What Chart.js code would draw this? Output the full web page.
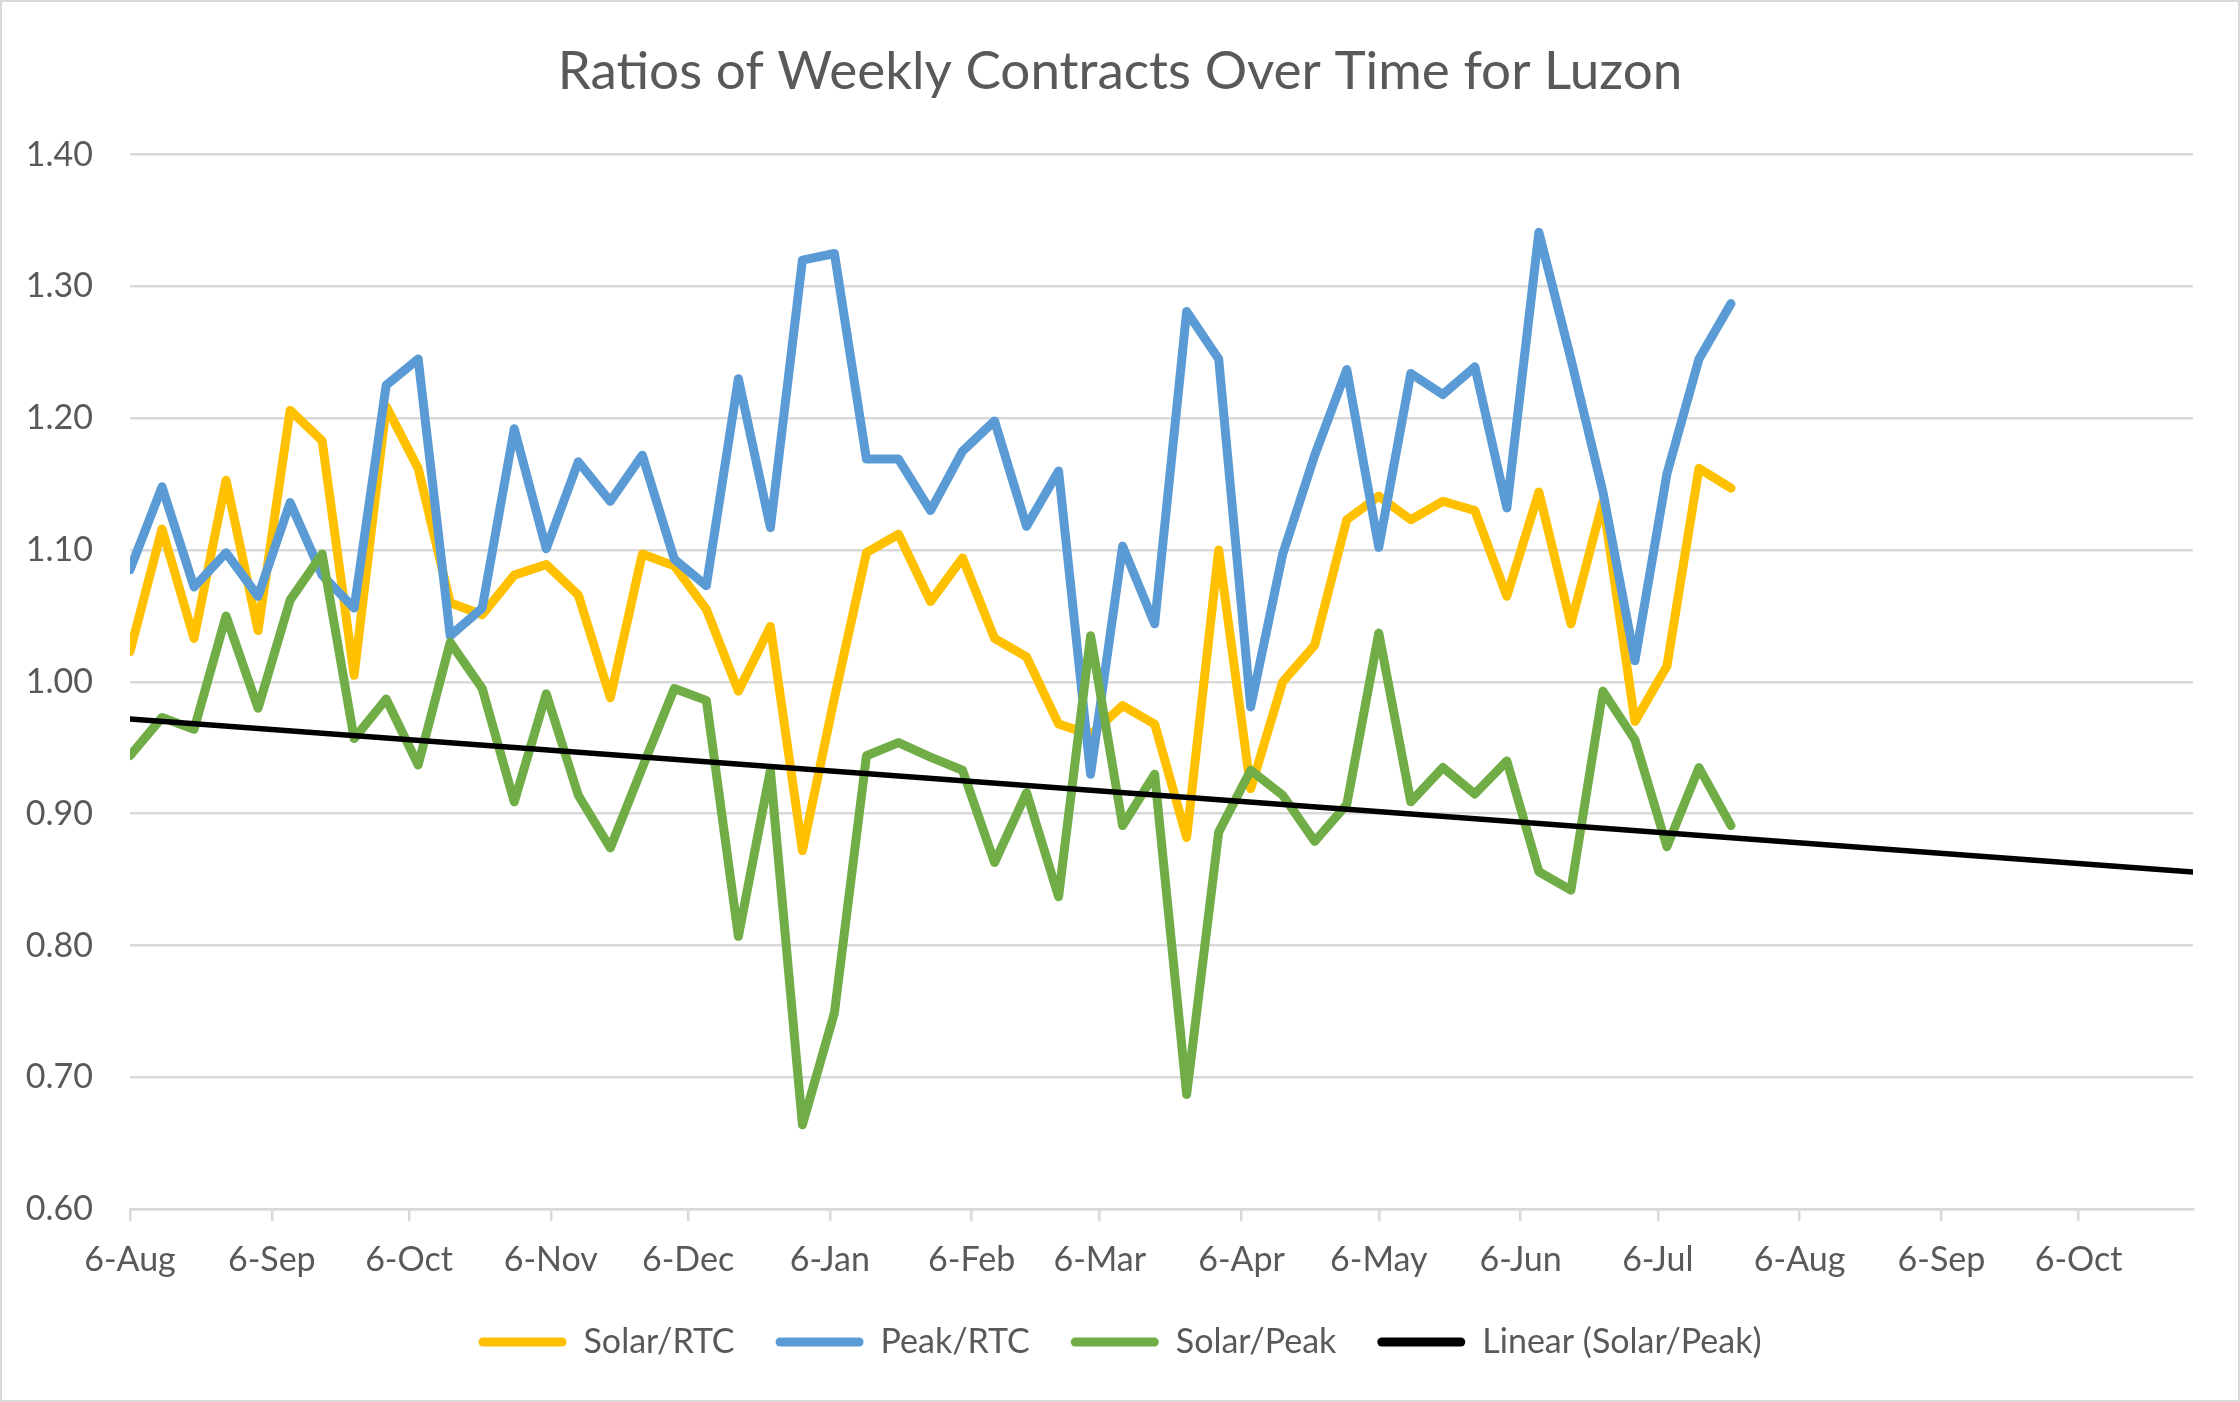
<!DOCTYPE html>
<html>
<head>
<meta charset="utf-8">
<script src="https://cdn.jsdelivr.net/npm/chart.js@4.4.1/dist/chart.umd.min.js"></script>
<style>
html,body{margin:0;padding:0;background:#fff;}
#wrap{width:2240px;height:1402px;position:relative;}
</style>
</head>
<body>
<div id="wrap"><canvas id="c"></canvas></div>
<script>
// ---- data ----
const weekDates = [
  '2018-08-06','2018-08-13','2018-08-20','2018-08-27','2018-09-03','2018-09-10','2018-09-17','2018-09-24',
  '2018-10-01','2018-10-08','2018-10-15','2018-10-22','2018-10-29','2018-11-05','2018-11-12','2018-11-19',
  '2018-11-26','2018-12-03','2018-12-10','2018-12-17','2018-12-24','2018-12-31','2019-01-07','2019-01-14',
  '2019-01-21','2019-01-28','2019-02-04','2019-02-11','2019-02-18','2019-02-25','2019-03-04','2019-03-11',
  '2019-03-18','2019-03-25','2019-04-01','2019-04-08','2019-04-15','2019-04-22','2019-04-29','2019-05-06',
  '2019-05-13','2019-05-20','2019-05-27','2019-06-03','2019-06-10','2019-06-17','2019-06-24','2019-07-01',
  '2019-07-08','2019-07-15','2019-07-22'
];
const solarRTC = [
  1.023,1.116,1.033,1.153,1.039,1.206,1.183,1.005,1.209,1.162,
  1.060,1.051,1.081,1.089,1.066,0.988,1.097,1.088,1.055,0.993,
  1.042,0.872,0.988,1.098,1.112,1.061,1.094,1.033,1.019,0.968,
  0.960,0.982,0.968,0.882,1.100,0.919,1.000,1.028,1.123,1.141,
  1.123,1.137,1.130,1.065,1.144,1.044,1.137,0.970,1.012,1.162,
  1.147
];
const peakRTC = [
  1.085,1.148,1.072,1.098,1.065,1.136,1.081,1.056,1.225,1.245,
  1.035,1.056,1.192,1.101,1.167,1.137,1.172,1.093,1.073,1.230,
  1.117,1.320,1.325,1.169,1.169,1.130,1.175,1.198,1.118,1.160,
  0.930,1.103,1.044,1.281,1.245,0.981,1.097,1.172,1.237,1.102,
  1.234,1.218,1.239,1.132,1.341,1.245,1.144,1.016,1.158,1.245,
  1.287
];
const solarPeak = [
  0.944,0.973,0.964,1.050,0.980,1.062,1.097,0.957,0.987,0.937,
  1.030,0.995,0.909,0.991,0.914,0.874,0.935,0.995,0.986,0.807,
  0.933,0.664,0.749,0.944,0.954,0.943,0.933,0.863,0.916,0.837,
  1.035,0.891,0.930,0.687,0.886,0.933,0.914,0.879,0.907,1.037,
  0.909,0.935,0.915,0.940,0.856,0.842,0.993,0.956,0.875,0.935,
  0.891
];
const tickDates = ['2018-08-06','2018-09-06','2018-10-06','2018-11-06','2018-12-06','2019-01-06','2019-02-06',
  '2019-03-06','2019-04-06','2019-05-06','2019-06-06','2019-07-06','2019-08-06','2019-09-06','2019-10-06'];
const tickLabels = ['6-Aug','6-Sep','6-Oct','6-Nov','6-Dec','6-Jan','6-Feb','6-Mar','6-Apr','6-May','6-Jun','6-Jul','6-Aug','6-Sep','6-Oct'];
const axisStart = '2018-08-06';
const axisEnd = '2019-10-31';
const yTicks = [0.60,0.70,0.80,0.90,1.00,1.10,1.20,1.30,1.40];
const seriesNames = ['Solar/RTC','Peak/RTC','Solar/Peak','Linear (Solar/Peak)'];
const seriesColors = ['#FFC000','#5B9BD5','#70AD47','#000000'];
const chartTitle = 'Ratios of Weekly Contracts Over Time for Luzon';

// ---- helpers ----
const DAY = 86400000;
const dayNum = d => (Date.parse(d + 'T00:00:00Z') - Date.parse(axisStart + 'T00:00:00Z')) / DAY;
const xs = weekDates.map(dayNum);
const toPts = arr => arr.map((v, i) => ({x: xs[i], y: v}));

// least squares linear trend of Solar/Peak (as Excel's linear trendline, forecast to axis end)
function linReg(x, y) {
  const n = x.length;
  const mx = x.reduce((a, b) => a + b, 0) / n;
  const my = y.reduce((a, b) => a + b, 0) / n;
  let sxy = 0, sxx = 0;
  for (let i = 0; i < n; i++) { sxy += (x[i] - mx) * (y[i] - my); sxx += (x[i] - mx) ** 2; }
  const b = sxy / sxx;
  return {a: my - b * mx, b};
}
const reg = linReg(xs, solarPeak);
const xMin = 0, xMax = dayNum(axisEnd);
const trendPts = [xMin, xMax].map(x => ({x, y: reg.a + reg.b * x}));

const FONT = 'Lato';
const TXT = '#595959';
const GRID = '#d9d9d9';

const bgBorder = {
  id: 'bgBorder',
  beforeDraw(chart) {
    const c = chart.ctx;
    c.save();
    c.fillStyle = '#fff';
    c.fillRect(0, 0, chart.width, chart.height);
    c.restore();
  },
  afterDraw(chart) {
    const c = chart.ctx;
    c.save();
    c.strokeStyle = GRID;
    c.lineWidth = 2;
    c.strokeRect(1, 1, chart.width - 2, chart.height - 2);
    c.restore();
  }
};

function mkDs(i, data, width, order) {
  return {
    label: seriesNames[i],
    data,
    borderColor: seriesColors[i],
    backgroundColor: seriesColors[i],
    borderWidth: width,
    pointRadius: 0,
    pointHoverRadius: 0,
    tension: 0,
    borderJoinStyle: 'round',
    borderCapStyle: 'round',
    fill: false,
    order
  };
}

function draw() {
  new Chart(document.getElementById('c'), {
    type: 'line',
    data: {
      datasets: [
        mkDs(0, toPts(solarRTC), 9, 4),
        mkDs(1, toPts(peakRTC), 9, 3),
        mkDs(2, toPts(solarPeak), 9, 2),
        mkDs(3, trendPts, 5.5, 1)
      ]
    },
    options: {
      responsive: true,
      maintainAspectRatio: false,
      devicePixelRatio: 1,
      animation: false,
      events: [],
      layout: {padding: {left: 47, right: 47, top: 0, bottom: 33}},
      plugins: {
        title: {
          display: true,
          text: chartTitle,
          color: TXT,
          font: {family: FONT, size: 53, weight: '400'},
          padding: {top: 40, bottom: 51}
        },
        legend: {
          display: true,
          position: 'bottom',
          labels: {
            color: TXT,
            font: {family: FONT, size: 34},
            boxWidth: 88,
            boxHeight: 9,
            useBorderRadius: true,
            borderRadius: 4.5,
            padding: 41,
            sort: (a, b) => a.datasetIndex - b.datasetIndex,
            generateLabels: (chart) => Chart.defaults.plugins.legend.labels.generateLabels(chart)
              .map(l => Object.assign(l, {lineWidth: 0, strokeStyle: 'rgba(0,0,0,0)'}))
          }
        },
        tooltip: {enabled: false}
      },
      scales: {
        x: {
          type: 'linear',
          min: xMin,
          max: xMax,
          afterBuildTicks: (scale) => { scale.ticks = tickDates.map(d => ({value: dayNum(d)})); },
          afterFit: (scale) => { scale.height = scale.height - 14; },
          ticks: {
            autoSkip: false,
            maxRotation: 0,
            minRotation: 0,
            color: TXT,
            font: {family: FONT, size: 34},
            padding: 18,
            callback: (v, i) => tickLabels[i]
          },
          grid: {drawOnChartArea: false, drawTicks: true, tickLength: 12, color: GRID, lineWidth: 2.5},
          border: {display: true, color: GRID, width: 2.5}
        },
        y: {
          type: 'linear',
          min: yTicks[0],
          max: yTicks[yTicks.length - 1],
          afterBuildTicks: (scale) => { scale.ticks = yTicks.map(v => ({value: v})); },
          afterFit: (scale) => {
            scale.width = 83;
            // let the tick labels extend left of the (narrowed) axis box without clipping
            scale._computeLabelArea = () => undefined;
          },
          ticks: {
            color: TXT,
            font: {family: FONT, size: 34},
            padding: 37,
            callback: (v) => Number(v).toFixed(2)
          },
          grid: {drawTicks: false, color: GRID, lineWidth: 2.5},
          border: {display: false}
        }
      }
    },
    plugins: [bgBorder]
  });
}

if (document.fonts && document.fonts.load) {
  Promise.all([
    document.fonts.load('34px Lato'),
    document.fonts.load('400 53px Lato')
  ]).then(draw, draw);
} else {
  draw();
}
</script>
</body>
</html>
